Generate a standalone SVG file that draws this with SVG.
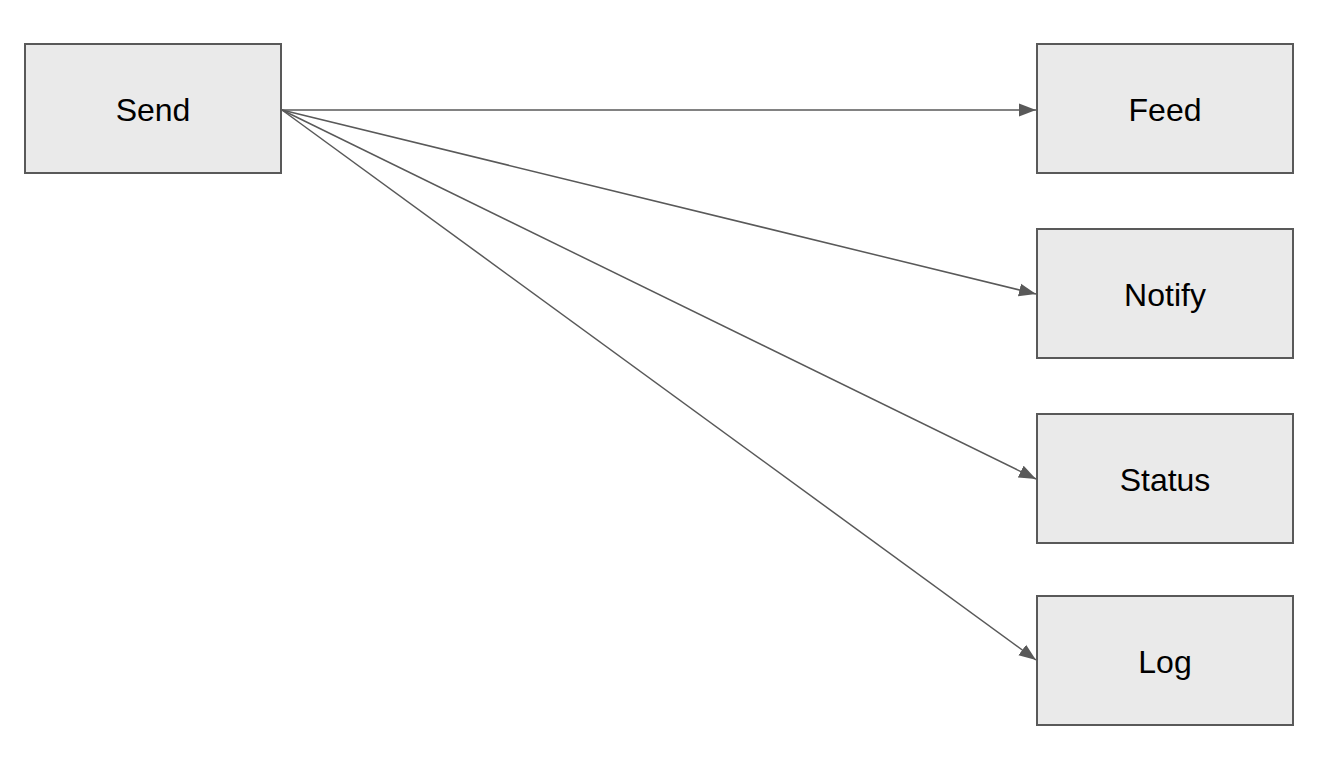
<svg xmlns="http://www.w3.org/2000/svg" width="1336" height="777" viewBox="0 0 1336 777">
<style>
.box{fill:#eaeaea;stroke:#595959;stroke-width:2}
.lbl{font-family:"Liberation Sans",Arial,sans-serif;font-size:32px;fill:#000;text-anchor:middle}
.edge{stroke:#595959;stroke-width:1.5;fill:none;marker-end:url(#ah)}
</style>
<defs>
<marker id="ah" markerUnits="userSpaceOnUse" markerWidth="19" markerHeight="14" refX="17" refY="7" orient="auto">
<path d="M0,0.5 L17,7 L0,13.5 Z" fill="#595959"/>
</marker>
</defs>
<rect width="1336" height="777" fill="#fff"/>
<g id="connectors">
<line class="edge" x1="282" y1="110" x2="1036" y2="110"/>
<line class="edge" x1="282" y1="110" x2="1036" y2="294"/>
<line class="edge" x1="282" y1="110" x2="1036" y2="479"/>
<line class="edge" x1="282" y1="110" x2="1036" y2="660"/>
</g>
<g id="send"><rect class="box" x="25" y="44" width="256" height="129"/><text class="lbl" x="153" y="121">Send</text></g>
<g id="feed"><rect class="box" x="1037" y="44" width="256" height="129"/><text class="lbl" x="1165" y="121">Feed</text></g>
<g id="notify"><rect class="box" x="1037" y="229" width="256" height="129"/><text class="lbl" x="1165" y="306">Notify</text></g>
<g id="status"><rect class="box" x="1037" y="414" width="256" height="129"/><text class="lbl" x="1165" y="491">Status</text></g>
<g id="log"><rect class="box" x="1037" y="596" width="256" height="129"/><text class="lbl" x="1165" y="673">Log</text></g>
</svg>
